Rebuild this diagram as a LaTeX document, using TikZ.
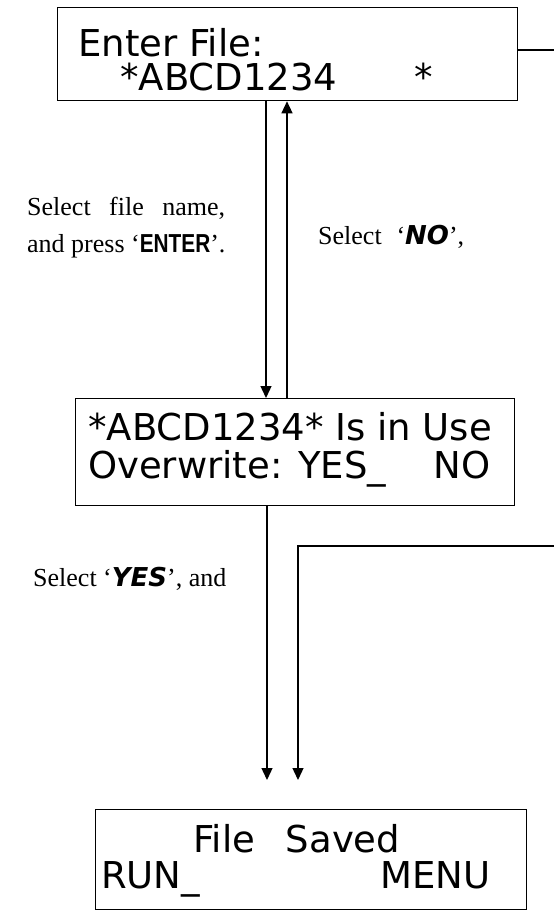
\documentclass[tikz,border=0pt]{standalone}
\usepackage{fontspec}
\setmainfont{Liberation Serif}
\newfontfamily\lcdfont{DejaVu Sans}
\newfontfamily\keyfont{Liberation Sans}
\usetikzlibrary{arrows.meta}
\newcommand{\enterkey}{\scalebox{0.8}[1]{\keyfont\bfseries ENTER}}
\newcommand{\yn}[1]{{\lcdfont\bfseries\itshape #1}}
\begin{document}
\begin{tikzpicture}[x=1pt,y=-1pt,
  box/.style={draw, line width=1.3pt, inner sep=0pt, anchor=north west},
  lcd/.style={font=\lcdfont\fontsize{37}{42}\selectfont, inner sep=0pt, anchor=base west},
  lbl/.style={font=\fontsize{26}{30}\selectfont, inner sep=0pt, anchor=base west},
  conn/.style={line width=1.3pt},
  arr/.style={line width=1.3pt, -{Triangle[length=12pt,width=11pt]}}]
\fill[white] (0,0) rectangle (554,911);
\useasboundingbox (0,0) rectangle (554,911);

% boxes
\node[box, minimum width=460pt, minimum height=93pt] (box1) at (57,7) {};
\node[box, minimum width=439pt, minimum height=107pt] (box2) at (75,398) {};
\node[box, minimum width=431pt, minimum height=100pt] (box3) at (95,809) {};

% box texts
\node[lcd] (t1a) at (78,56) {Enter File:};
\node[lcd] (t1b) at (120,90) {\makebox[313pt][l]{*ABCD1234\hfill*}};
\node[lcd] (t2a) at (88,440) {*ABCD1234* Is in Use};
\node[lcd] (t2b) at (88,478) {\makebox[402pt][l]{Overwrite: YES\_\hfill NO}};
\node[lcd] (t3a) at (193,852) {\makebox[207pt][l]{File\hfill Saved}};
\node[lcd] (t3b) at (101,888) {\makebox[389pt][l]{RUN\_\hfill MENU}};

% labels
\node[lbl] (l1) at (27,215) {\makebox[198pt][s]{Select file name,}};
\node[lbl] (l2) at (27,252) {and press ‘\enterkey’.};
\node[lbl] (l3) at (318,244) {\makebox[146pt][s]{Select ‘\yn{NO}’,}};
\node[lbl] (l4) at (33,586) {Select ‘\yn{YES}’, and};

% connectors
\coordinate (xa) at (266,0);
\coordinate (xb) at (287,0);
\coordinate (xc) at (267,0);
\coordinate (tipA) at (267,780);
\coordinate (tipB) at (298,780);
\coordinate (bend) at (298,546);
\coordinate (rightB) at (554,546);
\coordinate (rightA) at (554,50);

\draw[arr] (xa |- box1.south) -- (xa |- box2.north);
\draw[arr] (xb |- box2.north) -- (xb |- box1.south);
\draw[arr] (xc |- box2.south) -- (tipA);
\draw[arr] (rightB) -- (bend) -- (tipB);
\draw[conn] (box1.north east |- rightA) -- (rightA);
\end{tikzpicture}
\end{document}
